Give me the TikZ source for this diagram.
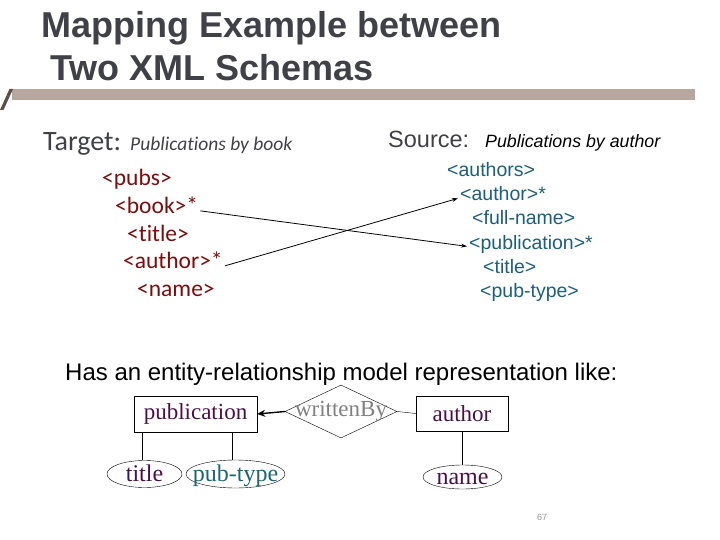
\documentclass[tikz,border=0pt]{standalone}
\usepackage{fontspec}
\setmainfont{Liberation Sans}
\newfontfamily\calibrifont[Ligatures=NoCommon]{Carlito}
\newfontfamily\romanfont{Liberation Serif}
\usetikzlibrary{shapes.geometric,arrows.meta}

\definecolor{titlegray}{HTML}{404048}
\definecolor{bartaupe}{HTML}{B7A79F}
\definecolor{bardark}{HTML}{5E4B42}
\definecolor{tgtred}{HTML}{7B0D0D}
\definecolor{srcblue}{HTML}{1B5F7C}
\definecolor{erpurple}{HTML}{4A0F48}
\definecolor{erteal}{HTML}{1E6478}

\tikzset{
  txt/.style={inner sep=0pt, anchor=base west},
  tgt/.style={txt, text=tgtred, font=\calibrifont\fontsize{23.5}{27}\selectfont},
  src/.style={txt, text=srcblue, font=\fontsize{19.5}{23}\selectfont},
  entity/.style={draw, rectangle, inner sep=0pt, text=erpurple,
    font=\romanfont\fontsize{23}{27}\selectfont},
  attr/.style={draw, ellipse, inner sep=-12pt, text=erpurple, text height=19pt, text depth=4pt,
    font=\romanfont\fontsize{24}{28}\selectfont},
}

\begin{document}
\begin{tikzpicture}[x=1pt,y=-1pt]
\useasboundingbox (0,0) rectangle (720,540);

% ---------- title ----------
\node[txt, text=titlegray, font=\bfseries\fontsize{36}{40}\selectfont] (head1) at (41,38) {Mapping Example between};
\node[txt, text=titlegray, font=\bfseries\fontsize{36}{40}\selectfont] (head2) at (50,81) {Two XML Schemas};
\fill[bartaupe] (12,89) rectangle (695,100);
\fill[bardark] (0,110) -- (3.5,110) -- (13,89) -- (9.5,89) -- cycle;

% ---------- target schema ----------
\node[txt, text=titlegray, font=\calibrifont\fontsize{28}{32}\selectfont] (tgthead) at (43,151) {Target:};
\node[txt, text=titlegray, font=\calibrifont\itshape\fontsize{19.5}{23}\selectfont] (tgtsub) at (130,151) {Publications by book};
\node[tgt] (tpubs) at (102,186) {<pubs>};
\node[tgt] (tbook) at (115,213.5) {<book>*};
\node[tgt] (ttitle) at (127,241) {<title>};
\node[tgt] (tauthor) at (123,268.5) {<author>*};
\node[tgt] (tname) at (137,296) {<name>};

% ---------- source schema ----------
\node[txt, text=titlegray, font=\fontsize{23.5}{28}\selectfont] (srchead) at (388,148) {Source:};
\node[txt, text=black, font=\itshape\fontsize{17.8}{21}\selectfont] (srcsub) at (485,148) {Publications by author};
\node[src] (sauthors) at (447,177) {<authors>};
\node[src] (sauthor) at (460,201) {<author>*};
\node[src] (sfull) at (472,225) {<full-name>};
\node[src] (spub) at (469,249) {<publication>*};
\node[src] (stitle) at (483,273) {<title>};
\node[src] (stype) at (480,297) {<pub-type>};

% ---------- mapping arrows ----------
\draw[-{Stealth[length=6pt,width=4pt]}, thick] ([xshift=2pt]tbook.mid east) -- ([xshift=-2pt]spub.mid west);
\draw[-{Stealth[length=6pt,width=4pt]}, thick] ([xshift=2pt]tauthor.mid east) -- ([xshift=-2pt]sauthor.mid west);

% ---------- ER model ----------
\node[txt, font=\fontsize{24}{29}\selectfont] (ertext) at (65,380) {Has an entity-relationship model representation like:};

\node[entity, minimum width=123pt, minimum height=36pt] (epub) at (195.5,414) {publication};
\node[entity, minimum width=92pt, minimum height=35pt] (eauthor) at (462,413.5) {author};
\node[draw, diamond, inner sep=-30pt, minimum width=112pt, minimum height=53pt, text=gray,
  font=\romanfont\fontsize{23}{27}\selectfont] (ewritten) at (341,411.5) {writtenBy};
\node[attr, minimum width=75pt, minimum height=27pt] (etitle) at (144.5,474) {title};
\node[attr, minimum width=99pt, minimum height=28pt, text=erteal] (etype) at (235.5,474) {pub-type};
\node[attr, minimum width=79pt, minimum height=24pt] (ename) at (462.5,477) {name};

\draw[-{Stealth[length=8pt,width=7pt]}, line width=1.4pt] (ewritten.west) -- (epub.east);
\draw (ewritten.east) -- (eauthor.west);
\draw (etitle.100) -- (etitle.100 |- epub.south);
\draw (etype.102) -- (etype.102 |- epub.south);
\draw (ename.north) -- (ename.north |- eauthor.south);

% ---------- page number ----------
\node[font=\fontsize{9}{11}\selectfont, text=gray!80] (pageno) at (542,517) {67};

\end{tikzpicture}
\end{document}
